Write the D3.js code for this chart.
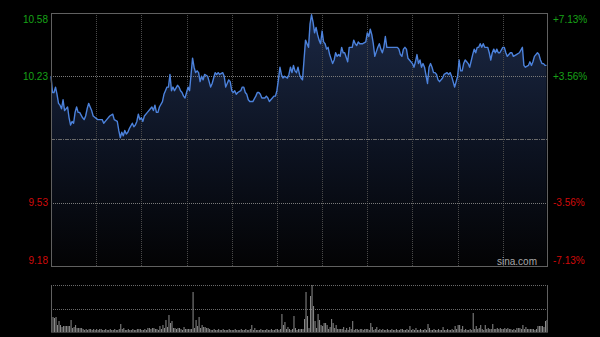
<!DOCTYPE html>
<html>
<head>
<meta charset="utf-8">
<script src="https://cdn.jsdelivr.net/npm/d3@7"></script>
<style>
html,body{margin:0;padding:0;background:#000;}
svg{display:block;}
</style>
</head>
<body>
<svg id="chart" width="600" height="337"></svg>
<script>
// ---- data ----
const priceTicks = [10.58, 10.23, 9.53, 9.18];
const pctTicks = ["+7.13%", "+3.56%", "-3.56%", "-7.13%"];
const prevClose = 9.88;
const gridMinutes = [30, 60, 90, 120, 150, 180, 210, 240, 270, 300];

const minutes = [0,1,2,3,4,5,6,7,8,9,11,12,13,14,15,16,17,18,19,21,22,23,24,25,26,27,28,31,34,35,37,39,41,42,44,45,46,47,48,49,50,51,52,54,55,56,57,58,59,60,61,62,64,66,
67,68,69,70,71,72,74,75,76,77,78,79,80,81,82,84,85,86,87,88,89,90,91,92,93,94,95,96,97,98,99,100,101,102,104,105,106,107,108,109,110,111,112,114,115,116,117,118,119,120,121,122,123,124,126,127,128,129,130,131,132,
134,136,137,138,139,140,142,143,144,145,147,148,149,150,151,152,153,154,155,157,158,159,160,161,162,163,164,165,166,167,168,169,170,171,172,173,174,175,176,177,178,179,180,181,182,183,184,185,187,188,189,190,191,192,193,194,195,197,198,199,
200,201,202,203,204,205,207,209,210,211,212,213,214,215,217,218,219,220,221,222,223,225,227,230,231,232,233,234,235,236,237,238,240,241,242,243,244,245,246,247,248,250,251,252,253,254,255,256,257,258,260,261,263,264,265,
266,267,268,270,271,272,273,274,275,276,277,278,280,281,282,283,284,285,286,287,288,290,291,292,293,294,295,296,297,298,300,301,302,303,304,305,306,307,309,311,313,314,315,317,318,319,320,321,323,324,325,326,327,328,329];

const prices = [10.23,10.14,10.14,10.17,10.13,10.08,10.07,10.05,10.10,10.04,10.06,10.00,9.96,9.98,9.97,10.03,10.06,10.03,10.03,10.00,9.99,10.01,10.05,10.08,10.06,10.04,10.01,9.99,9.99,9.97,9.99,10.01,10.02,9.99,9.98,9.93,9.89,9.92,9.90,9.93,9.91,9.92,9.94,9.97,9.95,9.96,9.98,10.02,9.99,10.00,9.98,10.01,10.03,10.05,
10.06,10.04,10.07,10.03,10.03,10.06,10.09,10.13,10.15,10.17,10.17,10.24,10.15,10.17,10.15,10.18,10.17,10.15,10.14,10.12,10.11,10.14,10.17,10.15,10.24,10.33,10.28,10.25,10.26,10.25,10.20,10.23,10.21,10.24,10.23,10.20,10.17,10.19,10.22,10.25,10.24,10.25,10.24,10.25,10.23,10.17,10.19,10.21,10.20,10.15,10.14,10.15,10.13,10.14,10.15,10.17,10.17,10.14,10.13,10.10,10.09,
10.09,10.12,10.14,10.14,10.13,10.11,10.11,10.12,10.11,10.09,10.11,10.12,10.12,10.15,10.21,10.28,10.24,10.22,10.23,10.22,10.24,10.28,10.25,10.29,10.26,10.25,10.28,10.24,10.22,10.21,10.32,10.43,10.41,10.39,10.52,10.57,10.53,10.47,10.50,10.46,10.43,10.41,10.48,10.42,10.41,10.38,10.39,10.35,10.30,10.32,10.36,10.34,10.35,10.34,10.39,10.36,10.36,10.31,10.39,10.39,
10.39,10.43,10.41,10.40,10.42,10.41,10.41,10.42,10.47,10.45,10.49,10.46,10.41,10.34,10.39,10.41,10.38,10.36,10.39,10.45,10.39,10.39,10.39,10.39,10.38,10.35,10.34,10.38,10.39,10.38,10.33,10.32,10.30,10.28,10.31,10.35,10.30,10.32,10.28,10.30,10.28,10.19,10.28,10.30,10.28,10.25,10.25,10.24,10.21,10.20,10.22,10.24,10.25,10.24,10.25,
10.23,10.20,10.17,10.23,10.32,10.26,10.26,10.30,10.32,10.31,10.30,10.28,10.35,10.38,10.36,10.39,10.39,10.41,10.39,10.41,10.39,10.39,10.36,10.32,10.36,10.38,10.36,10.38,10.36,10.36,10.39,10.39,10.36,10.34,10.35,10.36,10.36,10.34,10.35,10.36,10.39,10.29,10.28,10.29,10.31,10.29,10.31,10.34,10.36,10.35,10.32,10.30,10.30,10.29,10.29];

const volumes = [
31,15,14,15,7,11,7,5,6,6,
6,6,6,12,4,5,7,4,4,4,
4,3,2,3,2,3,3,2,3,2,
3,2,3,3,2,2,3,2,2,3,
2,2,3,2,2,3,8,3,4,2,
2,3,2,2,3,2,2,3,3,3,
2,2,3,2,4,4,3,4,4,3,
3,2,6,3,7,4,12,5,17,9,
11,4,4,3,4,4,3,2,5,3,
3,3,3,3,40,4,12,6,15,4,
7,5,5,4,4,3,2,2,3,2,
2,3,2,2,3,2,2,2,3,2,
2,2,3,2,2,2,3,2,2,3,
2,2,3,7,2,4,2,2,2,3,
2,2,2,3,2,2,3,2,2,3,
3,2,3,18,7,10,3,5,3,2,
3,16,4,2,3,3,3,3,13,40,
16,4,36,47,26,11,4,18,12,7,
6,9,9,7,3,5,13,9,4,7,
3,3,3,3,5,2,4,2,5,3,
11,2,3,3,2,3,3,2,3,3,
3,2,9,5,2,3,5,2,3,2,
3,2,2,3,2,2,3,2,2,3,
2,2,3,3,2,2,3,2,6,2,
3,2,4,2,2,3,2,2,3,2,
8,4,2,2,3,2,2,3,2,2,
5,2,2,3,2,2,3,2,6,3,
7,7,3,6,2,3,2,2,3,2,
19,3,6,3,4,7,3,2,7,3,
4,3,3,8,3,3,4,3,4,3,
3,4,3,4,3,3,2,3,2,4,
4,4,3,7,3,5,3,3,3,3,
3,2,3,6,6,6,6,5,11,12];

// ---- drawing ----
const svg = d3.select("#chart");
const L = 51, R = 548, T = 13, B = 266;
const VT = 285, VB = 332;

const x = d3.scaleLinear().domain([0, 330]).range([L, R]);
const y = d3.scaleLinear().domain([9.18, 10.58]).range([B, T]);
const yv = d3.scaleLinear().domain([0, d3.max(volumes)]).range([VB, VT]);

svg.append("rect").attr("width", 600).attr("height", 337).attr("fill", "#000");

const defs = svg.append("defs");
const grad = defs.append("linearGradient").attr("id", "fillGrad")
  .attr("gradientUnits", "userSpaceOnUse").attr("x1", 0).attr("x2", 0).attr("y1", T).attr("y2", B);
grad.append("stop").attr("offset", "0%").attr("stop-color", "#1b2844");
grad.append("stop").attr("offset", "55%").attr("stop-color", "#0c1220");
grad.append("stop").attr("offset", "100%").attr("stop-color", "#030304");

const pts = minutes.map((m, i) => ({m, p: prices[i]}));

// area
svg.append("path").datum(pts)
  .attr("fill", "url(#fillGrad)")
  .attr("d", d3.area().x(d => x(d.m)).y0(B).y1(d => y(d.p)));

// vertical grid
svg.append("g").selectAll("line").data(gridMinutes).join("line")
  .attr("x1", d => Math.round(x(d)) + 0.5).attr("x2", d => Math.round(x(d)) + 0.5)
  .attr("y1", T).attr("y2", B)
  .attr("stroke", "#4a4a4a").attr("stroke-width", 1).attr("stroke-dasharray", "1,1");

// horizontal grid
const hGrid = [10.23, 9.53];
svg.append("g").selectAll("line").data(hGrid).join("line")
  .attr("x1", L).attr("x2", R)
  .attr("y1", d => Math.round(y(d)) + 0.5).attr("y2", d => Math.round(y(d)) + 0.5)
  .attr("stroke", "#7a7a7a").attr("stroke-width", 1).attr("stroke-dasharray", "1,1");
svg.append("line")
  .attr("x1", L).attr("x2", R)
  .attr("y1", Math.round(y(prevClose)) + 0.5).attr("y2", Math.round(y(prevClose)) + 0.5)
  .attr("stroke", "#6a6a6a").attr("stroke-width", 1).attr("stroke-dasharray", "4,1,1,1");

// price line
svg.append("path").datum(pts)
  .attr("fill", "none").attr("stroke", "#4c82dc").attr("stroke-width", 1.4)
  .attr("stroke-linejoin", "round")
  .attr("d", d3.line().x(d => x(d.m)).y(d => y(d.p)));

// frame
svg.append("rect").attr("x", L + 0.5).attr("y", T + 0.5).attr("width", R - L - 1).attr("height", B - T)
  .attr("fill", "none").attr("stroke", "#606060").attr("stroke-width", 1);

// labels
function labelY(v) {
  const c = Math.max(T + 6, Math.min(B - 6, y(v)));
  return c + 3.6;
}
const font = "Liberation Sans, Arial, sans-serif";
svg.append("g").selectAll("text").data(priceTicks).join("text")
  .attr("x", 48).attr("y", d => labelY(d))
  .attr("text-anchor", "end").attr("font-family", font).attr("font-size", 10)
  .attr("fill", d => d > prevClose ? "#17a317" : "#d10a0a")
  .text(d => d.toFixed(2));
svg.append("g").selectAll("text").data(priceTicks).join("text")
  .attr("x", 553).attr("y", d => labelY(d))
  .attr("text-anchor", "start").attr("font-family", font).attr("font-size", 10)
  .attr("fill", d => d > prevClose ? "#17a317" : "#d10a0a")
  .text((d, i) => pctTicks[i]);

svg.append("text").attr("x", 537).attr("y", 264.5).attr("text-anchor", "end")
  .attr("font-family", font).attr("font-size", 10).attr("fill", "#a8a8a8").text("sina.com");

// volume panel
svg.append("g").selectAll("line").data([VT, (VT + VB) / 2]).join("line")
  .attr("x1", L).attr("x2", R)
  .attr("y1", d => Math.round(d) + 0.5).attr("y2", d => Math.round(d) + 0.5)
  .attr("stroke", "#6a6a6a").attr("stroke-width", 1).attr("stroke-dasharray", "1,1");
svg.append("g").selectAll("rect").data(volumes).join("rect")
  .attr("x", (d, i) => x(i))
  .attr("width", 1)
  .attr("y", d => yv(d))
  .attr("height", d => VB - yv(d))
  .attr("fill", "#8c8c8c");
svg.append("line").attr("x1", L + 0.5).attr("x2", L + 0.5).attr("y1", VT).attr("y2", VB + 1)
  .attr("stroke", "#606060");
svg.append("line").attr("x1", R - 0.5).attr("x2", R - 0.5).attr("y1", VT).attr("y2", VB + 1)
  .attr("stroke", "#606060");
svg.append("line").attr("x1", L).attr("x2", R).attr("y1", VB + 0.5).attr("y2", VB + 0.5)
  .attr("stroke", "#3a3a3a");
</script>
</body>
</html>
